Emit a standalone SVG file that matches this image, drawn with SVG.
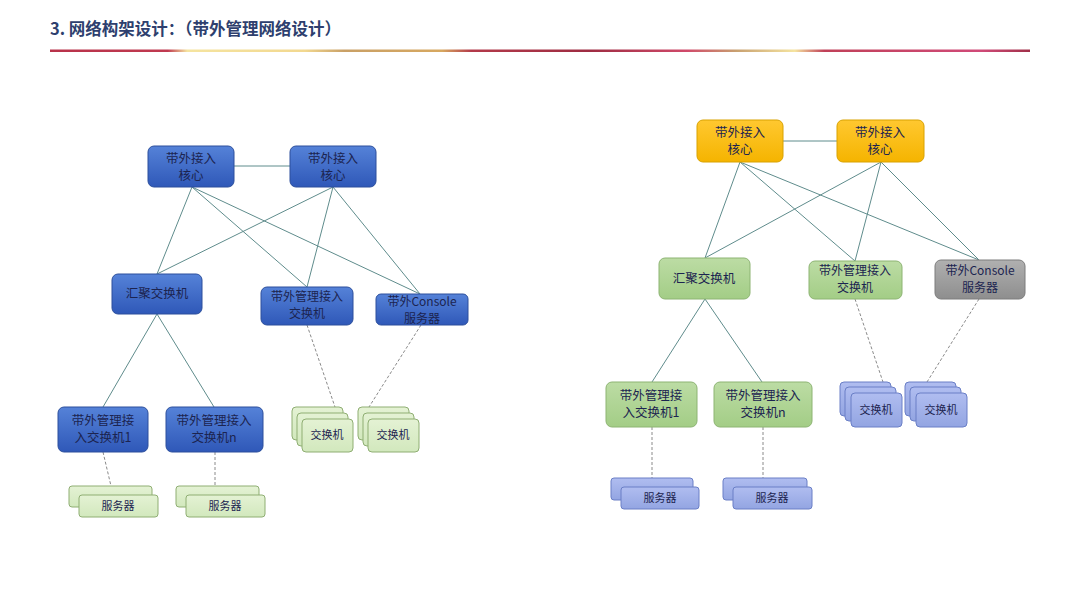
<svg xmlns="http://www.w3.org/2000/svg" width="1080" height="608" viewBox="0 0 1080 608">
<defs>
<linearGradient id="gBlue" x1="0" y1="0" x2="0" y2="1"><stop offset="0" stop-color="#5582d8"/><stop offset="1" stop-color="#2f58b8"/></linearGradient>
<linearGradient id="gOrange" x1="0" y1="0" x2="0" y2="1"><stop offset="0" stop-color="#ffc830"/><stop offset="1" stop-color="#f5b400"/></linearGradient>
<linearGradient id="gGreen" x1="0" y1="0" x2="0" y2="1"><stop offset="0" stop-color="#bcdca4"/><stop offset="1" stop-color="#a3cd86"/></linearGradient>
<linearGradient id="gGrey" x1="0" y1="0" x2="0" y2="1"><stop offset="0" stop-color="#b0b0b0"/><stop offset="1" stop-color="#8e8e8e"/></linearGradient>
<linearGradient id="gLight" x1="0" y1="0" x2="0" y2="1"><stop offset="0" stop-color="#e4f2d4"/><stop offset="1" stop-color="#d2e8bd"/></linearGradient>
<linearGradient id="gPeri" x1="0" y1="0" x2="0" y2="1"><stop offset="0" stop-color="#b0bdf0"/><stop offset="1" stop-color="#93a5e2"/></linearGradient>
<linearGradient id="gRule" x1="0" y1="0" x2="1" y2="0">
<stop offset="0" stop-color="#b8324a"/><stop offset="0.12" stop-color="#c03a50"/><stop offset="0.14" stop-color="#f5e4a0"/><stop offset="0.26" stop-color="#f2d890"/><stop offset="0.3" stop-color="#c9a066"/><stop offset="0.4" stop-color="#d7a860"/><stop offset="0.43" stop-color="#b33a4a"/><stop offset="0.55" stop-color="#9e2c42"/><stop offset="0.65" stop-color="#d04a6a"/><stop offset="0.7" stop-color="#c8a070"/><stop offset="0.76" stop-color="#f5e4a0"/><stop offset="0.79" stop-color="#c04058"/><stop offset="0.95" stop-color="#d04a78"/><stop offset="1" stop-color="#a03048"/>
</linearGradient>
</defs>
<style>
.t{font-family:"Noto Sans CJK SC","Liberation Sans",sans-serif;font-size:12.5px;text-anchor:middle;fill:#1c2450}
.tm{font-family:"Noto Sans CJK SC","Liberation Sans",sans-serif;font-size:12px;text-anchor:middle;fill:#1c2450}
.ts{font-family:"Noto Sans CJK SC","Liberation Sans",sans-serif;font-size:11px;text-anchor:middle;fill:#1c2450}
.blue{fill:url(#gBlue);stroke:#2c4f9c;stroke-width:1}
.orange{fill:url(#gOrange);stroke:#d9a200;stroke-width:1}
.green{fill:url(#gGreen);stroke:#8db473;stroke-width:1}
.grey{fill:url(#gGrey);stroke:#7d7d7d;stroke-width:1}
.light{fill:url(#gLight);stroke:#8fae73;stroke-width:1}
.peri{fill:url(#gPeri);stroke:#6a7fc6;stroke-width:1}
.ln{stroke:#5f8c8c;stroke-width:1;fill:none}
.dl{stroke:#8a8a8a;stroke-width:1;stroke-dasharray:3 2;fill:none}
</style>
<rect width="1080" height="608" fill="#ffffff"/>
<text x="50" y="35" font-family="Noto Sans CJK SC, Liberation Sans, sans-serif" font-size="16.5" font-weight="600" fill="#2e3f6e">3. 网络构架设计：（带外管理网络设计）</text>
<rect x="50" y="49.5" width="980" height="2.5" fill="url(#gRule)"/>

<g id="connectors">
<line class="ln" x1="234" y1="166" x2="290" y2="166"/>
<line class="ln" x1="192" y1="187" x2="157" y2="274"/>
<line class="ln" x1="192" y1="187" x2="307" y2="287"/>
<line class="ln" x1="192" y1="187" x2="420" y2="294"/>
<line class="ln" x1="333" y1="187" x2="157" y2="274"/>
<line class="ln" x1="333" y1="187" x2="307" y2="287"/>
<line class="ln" x1="333" y1="187" x2="420" y2="294"/>
<line class="ln" x1="157" y1="314" x2="103" y2="407"/>
<line class="ln" x1="157" y1="314" x2="214" y2="407"/>
<line class="dl" x1="103" y1="452" x2="111" y2="486"/>
<line class="dl" x1="215" y1="452" x2="215" y2="486"/>
<line class="dl" x1="307" y1="325" x2="335" y2="407"/>
<line class="dl" x1="421" y1="325" x2="369" y2="407"/>

<line class="ln" x1="783" y1="141" x2="837" y2="141"/>
<line class="ln" x1="740" y1="162" x2="705" y2="258"/>
<line class="ln" x1="740" y1="162" x2="855" y2="261"/>
<line class="ln" x1="740" y1="162" x2="979" y2="260"/>
<line class="ln" x1="881" y1="162" x2="705" y2="258"/>
<line class="ln" x1="881" y1="162" x2="855" y2="261"/>
<line class="ln" x1="881" y1="162" x2="979" y2="260"/>
<line class="ln" x1="705" y1="299" x2="652" y2="382"/>
<line class="ln" x1="705" y1="299" x2="762" y2="382"/>
<line class="dl" x1="652" y1="427" x2="652" y2="478"/>
<line class="dl" x1="763" y1="427" x2="763" y2="478"/>
<line class="dl" x1="855" y1="299" x2="883" y2="382"/>
<line class="dl" x1="979" y1="299" x2="927" y2="382"/>
</g>

<g id="L-core1"><rect class="blue" x="148" y="146" width="86" height="41" rx="6"/><text class="t" x="191" y="163">带外接入</text><text class="t" x="191" y="180">核心</text></g>
<g id="L-core2"><rect class="blue" x="290" y="146" width="86" height="41" rx="6"/><text class="t" x="333" y="163">带外接入</text><text class="t" x="333" y="180">核心</text></g>
<g id="L-agg"><rect class="blue" x="112" y="274" width="90" height="40" rx="6"/><text class="t" x="157" y="298">汇聚交换机</text></g>
<g id="L-mgmt"><rect class="blue" x="261" y="287" width="92" height="38" rx="6"/><text class="tm" x="307" y="301">带外管理接入</text><text class="tm" x="307" y="318">交换机</text></g>
<g id="L-console"><rect class="blue" x="376" y="294" width="92" height="31" rx="5"/><text class="tm" x="422" y="306">带外Console</text><text class="tm" x="422" y="322.5">服务器</text></g>
<g id="L-acc1"><rect class="blue" x="58" y="407" width="90" height="45" rx="6"/><text class="t" x="103" y="425">带外管理接</text><text class="t" x="103" y="442">入交换机1</text></g>
<g id="L-accn"><rect class="blue" x="166" y="407" width="97" height="45" rx="6"/><text class="t" x="214" y="425">带外管理接入</text><text class="t" x="214" y="442">交换机n</text></g>
<g id="L-srv1"><rect class="light" x="69" y="486" width="83" height="21" rx="3"/><rect class="light" x="79" y="495" width="79" height="22" rx="3"/><text class="ts" x="118" y="510">服务器</text></g>
<g id="L-srvn"><rect class="light" x="176" y="486" width="83" height="21" rx="3"/><rect class="light" x="186" y="495" width="79" height="22" rx="3"/><text class="ts" x="225" y="510">服务器</text></g>
<g id="L-sw1"><rect class="light" x="292" y="407" width="51" height="33" rx="4"/><rect class="light" x="297" y="413" width="51" height="33" rx="4"/><rect class="light" x="302" y="419" width="51" height="33" rx="4"/><text class="ts" x="327" y="439">交换机</text></g>
<g id="L-sw2"><rect class="light" x="358" y="407" width="51" height="33" rx="4"/><rect class="light" x="363" y="413" width="51" height="33" rx="4"/><rect class="light" x="368" y="419" width="51" height="33" rx="4"/><text class="ts" x="393" y="439">交换机</text></g>

<g id="R-core1"><rect class="orange" x="697" y="120" width="86" height="42" rx="6"/><text class="t" x="740" y="137">带外接入</text><text class="t" x="740" y="154">核心</text></g>
<g id="R-core2"><rect class="orange" x="837" y="120" width="87" height="42" rx="6"/><text class="t" x="880" y="137">带外接入</text><text class="t" x="880" y="154">核心</text></g>
<g id="R-agg"><rect class="green" x="659" y="258" width="91" height="41" rx="6"/><text class="t" x="704" y="283">汇聚交换机</text></g>
<g id="R-mgmt"><rect class="green" x="809" y="261" width="93" height="38" rx="6"/><text class="tm" x="855" y="275">带外管理接入</text><text class="tm" x="855" y="292">交换机</text></g>
<g id="R-console"><rect class="grey" x="935" y="260" width="90" height="39" rx="6"/><text class="tm" x="980" y="275">带外Console</text><text class="tm" x="980" y="292">服务器</text></g>
<g id="R-acc1"><rect class="green" x="606" y="382" width="91" height="45" rx="6"/><text class="t" x="651" y="400">带外管理接</text><text class="t" x="651" y="417">入交换机1</text></g>
<g id="R-accn"><rect class="green" x="714" y="382" width="98" height="45" rx="6"/><text class="t" x="763" y="400">带外管理接入</text><text class="t" x="763" y="417">交换机n</text></g>
<g id="R-srv1"><rect class="peri" x="611" y="478" width="82" height="22" rx="3"/><rect class="peri" x="621" y="487" width="78" height="22" rx="3"/><text class="ts" x="660" y="502">服务器</text></g>
<g id="R-srvn"><rect class="peri" x="723" y="478" width="84" height="22" rx="3"/><rect class="peri" x="733" y="487" width="79" height="22" rx="3"/><text class="ts" x="772" y="502">服务器</text></g>
<g id="R-sw1"><rect class="peri" x="840" y="382" width="51" height="34" rx="4"/><rect class="peri" x="845" y="387" width="51" height="34" rx="4"/><rect class="peri" x="851" y="393" width="51" height="34" rx="4"/><text class="ts" x="876" y="414">交换机</text></g>
<g id="R-sw2"><rect class="peri" x="905" y="382" width="51" height="34" rx="4"/><rect class="peri" x="910" y="387" width="51" height="34" rx="4"/><rect class="peri" x="916" y="393" width="51" height="34" rx="4"/><text class="ts" x="941" y="414">交换机</text></g>
</svg>
